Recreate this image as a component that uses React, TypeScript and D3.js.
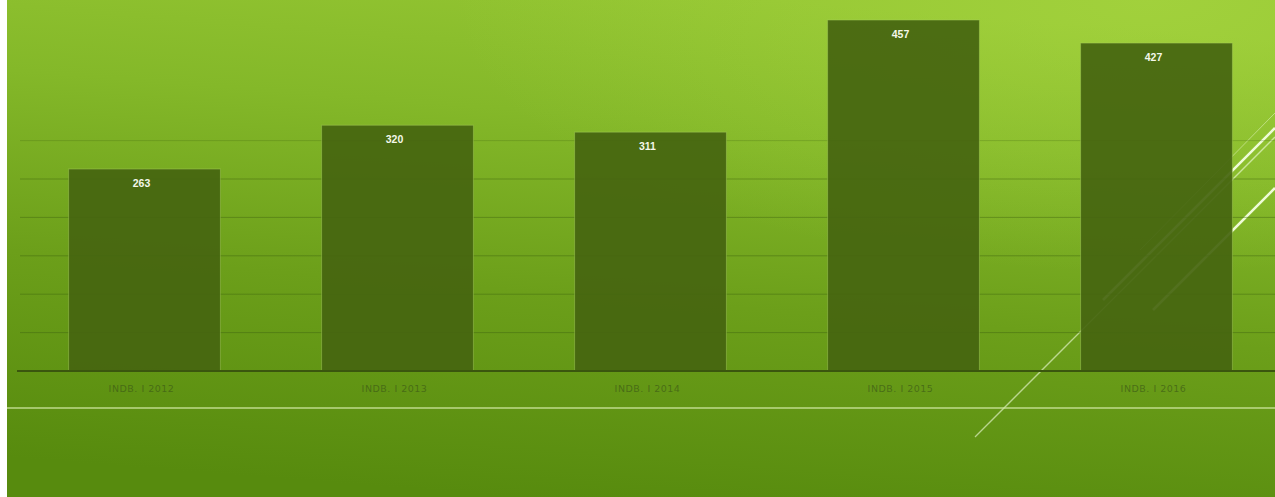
import React from "react";
import * as d3 from "d3";

const categories = ["INDB. I 2012", "INDB. I 2013", "INDB. I 2014", "INDB. I 2015", "INDB. I 2016"];
const values = [263, 320, 311, 457, 427];
const gridTicks = [50, 100, 150, 200, 250, 300];

const W = 1275;
const H = 497;

export default function App() {
  const x = d3.scaleBand<string>().domain(categories).range([18, 1283]).paddingInner(0.4).paddingOuter(0.2);
  const y = d3.scaleLinear().domain([0, 500]).range([371, -13]);

  const deco = [
    { x1: 1103, y1: 300, x2: 1275, y2: 128, w: 2.6, o: 0.95 },
    { x1: 1153, y1: 310, x2: 1275, y2: 188, w: 2.6, o: 0.95 },
    { x1: 975, y1: 437, x2: 1275, y2: 137, w: 1.3, o: 0.6 },
    { x1: 1140, y1: 250, x2: 1275, y2: 113, w: 1, o: 0.45 },
  ];

  return (
    <svg
      width={W}
      height={H}
      style={{ position: "absolute", left: 0, top: 0, display: "block" }}
    >
      <defs>
        <linearGradient id="bg" x1="0.4" y1="1" x2="0.6" y2="0">
          <stop offset="0" stopColor="#578b0e" />
          <stop offset="0.4" stopColor="#6c9f1a" />
          <stop offset="0.75" stopColor="#84b829" />
          <stop offset="1" stopColor="#92c431" />
        </linearGradient>
        <radialGradient id="hl" cx="0.9" cy="0" r="0.55">
          <stop offset="0" stopColor="#b8e44c" stopOpacity="0.4" />
          <stop offset="1" stopColor="#b8e44c" stopOpacity="0" />
        </radialGradient>
      </defs>
      <rect x={0} y={0} width={W} height={H} fill="#ffffff" />
      <rect x={7} y={0} width={W - 7} height={H} fill="url(#bg)" />
      <rect x={7} y={0} width={W - 7} height={H} fill="url(#hl)" />

      {/* decorative diagonal lines */}
      {deco.map((d, i) => (
        <line key={i} x1={d.x1} y1={d.y1} x2={d.x2} y2={d.y2} stroke="#f4ffe0" strokeWidth={d.w} strokeOpacity={d.o} />
      ))}

      {/* light horizontal line */}
      <line x1={7} x2={W} y1={408} y2={408} stroke="#cfe8a0" strokeWidth={1.5} strokeOpacity={0.85} />

      {/* gridlines */}
      {gridTicks.map((t) => (
        <line key={t} x1={20} x2={W} y1={y(t)} y2={y(t)} stroke="#3f6410" strokeWidth={1} strokeOpacity={t === 300 ? 0.25 : 0.45} />
      ))}

      {/* bars */}
      {categories.map((c, i) => (
        <rect
          key={c}
          x={x(c)}
          y={y(values[i])}
          width={x.bandwidth()}
          height={y(0) - y(values[i])}
          fill="#466510"
          fillOpacity={0.93}
          stroke="#a8d060"
          strokeOpacity={0.45}
          strokeWidth={1}
        />
      ))}

      {/* baseline */}
      <line x1={17} x2={W} y1={y(0)} y2={y(0)} stroke="#3a560e" strokeWidth={2.2} />

      {/* value labels */}
      {categories.map((c, i) => (
        <text
          key={c + "v"}
          x={(x(c) as number) + x.bandwidth() / 2 - 3}
          y={y(values[i]) + 18}
          textAnchor="middle"
          fill="#f4f8ea"
          fontFamily="Liberation Sans, Arial, sans-serif"
          fontWeight="bold"
          fontSize={10.5}
        >
          {values[i]}
        </text>
      ))}

      {/* category labels */}
      {categories.map((c) => (
        <text
          key={c + "c"}
          x={(x(c) as number) + x.bandwidth() / 2 - 3}
          y={392}
          textAnchor="middle"
          fill="#3d5a16"
          fillOpacity={0.7}
          fontFamily="DejaVu Sans, sans-serif"
          fontSize={9.5}
          letterSpacing={0.5}
        >
          {c}
        </text>
      ))}
    </svg>
  );
}
